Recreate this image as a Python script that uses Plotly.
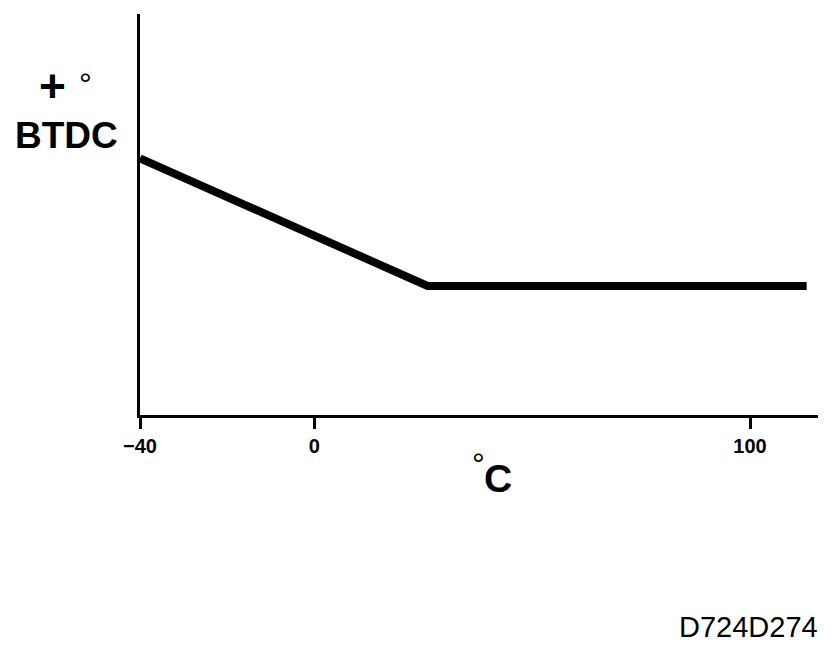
import plotly.graph_objects as go

# Data
temp_c = [-40, 26, 113]
advance = [64, 32.2, 32.2]
tick_vals = [-40, 0, 100]
tick_text = ["\u221240", "0", "100"]

# page body has an 8px default margin; plot area targets x 140..818, y 14..415 in the page
OFF = 8
PL, PR, PT, PB = 140, 818, 14, 415
W, H = 832 - OFF, 664 - OFF

fig = go.Figure()
fig.add_trace(go.Scatter(x=temp_c, y=advance, mode="lines",
                         line=dict(color="black", width=8),
                         hoverinfo="skip", showlegend=False))

fig.update_layout(
    width=W, height=H,
    margin=dict(l=PL - OFF, r=W - (PR - OFF), t=PT - OFF, b=H - (PB - OFF)),
    paper_bgcolor="white", plot_bgcolor="white",
    font=dict(family="Liberation Sans, Arial, sans-serif", color="black"),
    xaxis=dict(range=[-40, 115.6], showline=True, linecolor="black", linewidth=3,
               showgrid=False, zeroline=False, ticks="outside", ticklen=11,
               tickwidth=3, tickcolor="black", tickvals=tick_vals, ticktext=tick_text,
               tickfont=dict(size=20, weight="bold", family="Liberation Sans, Arial"),
               fixedrange=True),
    yaxis=dict(range=[0, 100], showline=True, linecolor="black", linewidth=3,
               showgrid=False, zeroline=False, showticklabels=False, ticks="",
               fixedrange=True),
)

anns = [
    dict(text="<b>+</b>", x=52, y=86, size=46),
    dict(text="\u00b0", x=85, y=84, size=32),
    dict(text="<b>BTDC</b>", x=66, y=136, size=37),
    dict(text="\u00b0", x=478, y=464, size=32),
    dict(text="<b>C</b>", x=498, y=478, size=39),
    dict(text="D724D274", x=748, y=627, size=29),
]
for a in anns:
    fig.add_annotation(text=a["text"], x=(a["x"] - PL) / (PR - PL),
                       y=1 - (a["y"] - PT) / (PB - PT),
                       xref="paper", yref="paper", showarrow=False,
                       xanchor="center", yanchor="middle",
                       font=dict(size=a["size"], color="black",
                                 family="Liberation Sans, Arial"))

fig.write_html("out.html")
